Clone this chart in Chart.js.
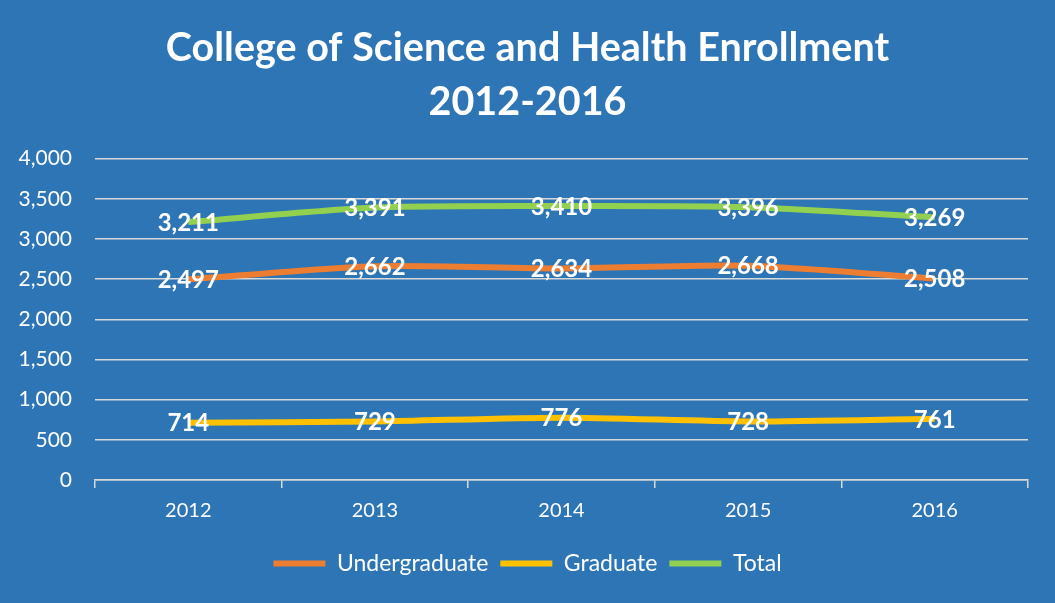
<!DOCTYPE html>
<html>
<head>
<meta charset="utf-8">
<script src="https://cdn.jsdelivr.net/npm/chart.js@4/dist/chart.umd.min.js"></script>
<style>
  html, body { margin: 0; padding: 0; background: #2E75B6; }
  #wrap { width: 1055px; height: 603px; position: relative; }
</style>
</head>
<body>
<div id="wrap"><canvas id="enrollChart"></canvas></div>
<script>
const years = ['2012', '2013', '2014', '2015', '2016'];
const undergraduate = [2497, 2662, 2634, 2668, 2508];
const graduate = [714, 729, 776, 728, 761];
const total = [3211, 3391, 3410, 3396, 3269];

const FONT = 'Lato, "Noto Sans", sans-serif';

// white value labels centred on each point
const valueLabels = {
    id: 'valueLabels',
    afterDatasetsDraw(chart) {
        const ctx = chart.ctx;
        ctx.save();
        ctx.font = 'bold 24px ' + FONT;
        ctx.fillStyle = '#FFFFFF';
        ctx.textAlign = 'center';
        ctx.textBaseline = 'middle';
        chart.data.datasets.forEach((ds, i) => {
            const meta = chart.getDatasetMeta(i);
            meta.data.forEach((pt, j) => {
                ctx.fillText(ds.data[j].toLocaleString('en-US'), pt.x, pt.y + 1);
            });
        });
        ctx.restore();
    }
};

const lineSet = (label, data, color) => ({
    label: label,
    data: data,
    borderColor: color,
    backgroundColor: color,
    borderWidth: 6,
    pointRadius: 0,
    tension: 0.25,
    fill: false
});

new Chart(document.getElementById('enrollChart'), {
    type: 'line',
    data: {
        labels: years,
        datasets: [
            lineSet('Undergraduate', undergraduate, '#ED7D31'),
            lineSet('Graduate', graduate, '#FFC000'),
            lineSet('Total', total, '#92D050')
        ]
    },
    plugins: [valueLabels],
    options: {
        responsive: true,
        maintainAspectRatio: false,
        animation: false,
        layout: { padding: { left: 0, right: 0, top: 22, bottom: 18 } },
        plugins: {
            tooltip: { enabled: false },
            title: {
                display: true,
                text: ['College of Science and Health Enrollment', '2012-2016'],
                color: '#FFFFFF',
                font: { family: FONT, size: 39.5, weight: 'bold', lineHeight: 1.35 },
                padding: { top: 0, bottom: 30 }
            },
            legend: {
                position: 'bottom',
                labels: {
                    color: '#FFFFFF',
                    font: { family: FONT, size: 23 },
                    boxWidth: 52,
                    boxHeight: 6,
                    useBorderRadius: true,
                    borderRadius: 3,
                    padding: 12,
                    generateLabels(chart) {
                        return chart.data.datasets.map((ds, i) => ({
                            text: ds.label,
                            fillStyle: ds.borderColor,
                            strokeStyle: ds.borderColor,
                            lineWidth: 0,
                            fontColor: '#FFFFFF',
                            datasetIndex: i
                        }));
                    }
                }
            }
        },
        scales: {
            x: {
                offset: true,
                afterFit(scale) { scale.height = 60; },
                grid: {
                    offset: true,
                    drawOnChartArea: false,
                    drawTicks: true,
                    tickLength: 8,
                    color: '#D9D9D9',
                    lineWidth: 1.5
                },
                border: { display: true, color: '#D9D9D9', width: 1.5 },
                ticks: {
                    color: '#FFFFFF',
                    font: { family: FONT, size: 20 },
                    padding: 11
                }
            },
            y: {
                min: 0,
                max: 4000,
                afterFit(scale) { scale.width = 95; },
                grid: {
                    drawTicks: false,
                    color: '#D9D9D9',
                    lineWidth: 1.5
                },
                border: { display: false },
                ticks: {
                    stepSize: 500,
                    color: '#FFFFFF',
                    font: { family: FONT, size: 21 },
                    padding: 23,
                    callback: v => v.toLocaleString('en-US')
                }
            },
            // empty right-hand gutter so title and legend stay centred on the canvas
            gutter: {
                position: 'right',
                min: 0,
                max: 1,
                afterFit(scale) { scale.width = 27; },
                grid: { display: false },
                border: { display: false },
                ticks: { display: false }
            }
        }
    }
});
</script>
</body>
</html>
